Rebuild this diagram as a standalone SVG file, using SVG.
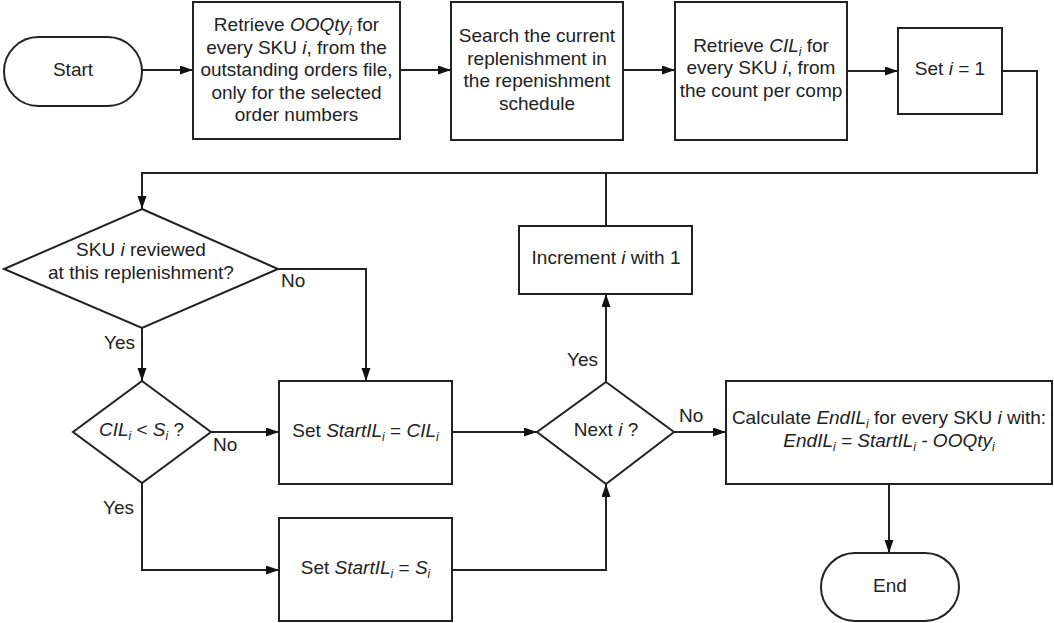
<svg xmlns="http://www.w3.org/2000/svg" width="1054" height="623" viewBox="0 0 1054 623">
<style>
.s{fill:#fff;stroke:#222;stroke-width:2}
.t{font-family:"Liberation Sans",Arial,sans-serif;font-size:19px;fill:#222;text-anchor:middle}
.l{font-family:"Liberation Sans",Arial,sans-serif;font-size:19px;fill:#222}
.it{font-style:italic}
.c{fill:none;stroke:#222;stroke-width:2}
</style>
<defs>
<marker id="a" markerUnits="userSpaceOnUse" markerWidth="14" markerHeight="10" refX="13" refY="4.5" orient="auto">
<path d="M0,0 L13,4.5 L0,9 z" fill="#111"/>
</marker>
</defs>
<rect width="1054" height="623" fill="#fff"/>
<g id="connectors">
<path class="c" d="M142,70 H193" marker-end="url(#a)"/>
<path class="c" d="M400,70 H451" marker-end="url(#a)"/>
<path class="c" d="M623,70 H675" marker-end="url(#a)"/>
<path class="c" d="M847,71 H898" marker-end="url(#a)"/>
<path class="c" d="M1002,71 H1037 V173 H142 V209" marker-end="url(#a)"/>
<path class="c" d="M606,226 V173"/>
<path class="c" d="M278,269 H366 V381" marker-end="url(#a)"/>
<path class="c" d="M142,328 V381" marker-end="url(#a)"/>
<path class="c" d="M211,432 H279" marker-end="url(#a)"/>
<path class="c" d="M142,483 V570 H279" marker-end="url(#a)"/>
<path class="c" d="M452,432 H537" marker-end="url(#a)"/>
<path class="c" d="M452,570 H606 V484" marker-end="url(#a)"/>
<path class="c" d="M606,382 V294" marker-end="url(#a)"/>
<path class="c" d="M674,432 H726" marker-end="url(#a)"/>
<path class="c" d="M889,484 V553" marker-end="url(#a)"/>
<text class="l" x="281" y="287">No</text>
<text class="l" x="135" y="349" text-anchor="end">Yes</text>
<text class="l" x="213" y="451">No</text>
<text class="l" x="134" y="514" text-anchor="end">Yes</text>
<text class="l" x="598" y="366" text-anchor="end">Yes</text>
<text class="l" x="679" y="422">No</text>
</g>
<g id="start">
<rect class="s" x="4" y="37" width="138" height="69" rx="34.5"/>
<text class="t" x="73" y="76">Start</text>
</g>
<g id="retrieve-ooqty">
<rect class="s" x="193" y="2" width="207" height="137"/>
<text class="t" x="296.5" y="31">Retrieve <tspan class="it">OOQty</tspan><tspan class="it" font-size="12" dy="4">i</tspan><tspan dy="-4"> for</tspan></text>
<text class="t" x="296.5" y="53.5">every SKU <tspan class="it">i</tspan>, from the</text>
<text class="t" x="296.5" y="76">outstanding orders file,</text>
<text class="t" x="296.5" y="98.5">only for the selected</text>
<text class="t" x="296.5" y="121">order numbers</text>
</g>
<g id="search">
<rect class="s" x="451" y="2" width="172" height="138"/>
<text class="t" x="537" y="42">Search the current</text>
<text class="t" x="537" y="64.5">replenishment in</text>
<text class="t" x="537" y="87">the repenishment</text>
<text class="t" x="537" y="109.5">schedule</text>
</g>
<g id="retrieve-cil">
<rect class="s" x="675" y="2" width="172" height="138"/>
<text class="t" x="761" y="51.5">Retrieve <tspan class="it">CIL</tspan><tspan class="it" font-size="12" dy="4">i</tspan><tspan dy="-4"> for</tspan></text>
<text class="t" x="761" y="74">every SKU <tspan class="it">i</tspan>, from</text>
<text class="t" x="761" y="96.5">the count per comp</text>
</g>
<g id="set-i">
<rect class="s" x="898" y="28" width="104" height="86"/>
<text class="t" x="950" y="75">Set <tspan class="it">i</tspan> = 1</text>
</g>
<g id="reviewed">
<path class="s" d="M142,209 L278,269 L142,328 L4,269 z"/>
<text class="t" x="141" y="256">SKU <tspan class="it">i</tspan> reviewed</text>
<text class="t" x="141" y="279">at this replenishment?</text>
</g>
<g id="increment">
<rect class="s" x="519" y="226" width="173" height="68"/>
<text class="t" x="606" y="264">Increment <tspan class="it">i</tspan> with 1</text>
</g>
<g id="cil-less">
<path class="s" d="M142,381 L211,432 L142,483 L73,432 z"/>
<text class="t" x="141.5" y="436"><tspan class="it">CIL</tspan><tspan class="it" font-size="12" dy="4">i</tspan><tspan dy="-4"> &lt; </tspan><tspan class="it">S</tspan><tspan class="it" font-size="12" dy="4">i</tspan><tspan dy="-4"> ?</tspan></text>
</g>
<g id="set-cil">
<rect class="s" x="279" y="381" width="173" height="103"/>
<text class="t" x="365.5" y="437">Set <tspan class="it">StartIL</tspan><tspan class="it" font-size="12" dy="4">i</tspan><tspan dy="-4"> = </tspan><tspan class="it">CIL</tspan><tspan class="it" font-size="12" dy="4">i</tspan></text>
</g>
<g id="set-s">
<rect class="s" x="279" y="518" width="173" height="103"/>
<text class="t" x="365.5" y="574">Set <tspan class="it">StartIL</tspan><tspan class="it" font-size="12" dy="4">i</tspan><tspan dy="-4"> = </tspan><tspan class="it">S</tspan><tspan class="it" font-size="12" dy="4">i</tspan></text>
</g>
<g id="next">
<path class="s" d="M606,382 L674,432 L606,484 L537,432 z"/>
<text class="t" x="606" y="436">Next <tspan class="it">i</tspan> ?</text>
</g>
<g id="calculate">
<rect class="s" x="726" y="381" width="326" height="103"/>
<text class="t" x="889" y="424">Calculate <tspan class="it">EndIL</tspan><tspan class="it" font-size="12" dy="4">i</tspan><tspan dy="-4"> for every SKU </tspan><tspan class="it">i</tspan> with:</text>
<text class="t it" x="889" y="447">EndIL<tspan font-size="12" dy="4">i</tspan><tspan dy="-4"> = StartIL</tspan><tspan font-size="12" dy="4">i</tspan><tspan dy="-4"> - OOQty</tspan><tspan font-size="12" dy="4">i</tspan></text>
</g>
<g id="end">
<rect class="s" x="821" y="553" width="138" height="68" rx="34"/>
<text class="t" x="890" y="592">End</text>
</g>
</svg>
